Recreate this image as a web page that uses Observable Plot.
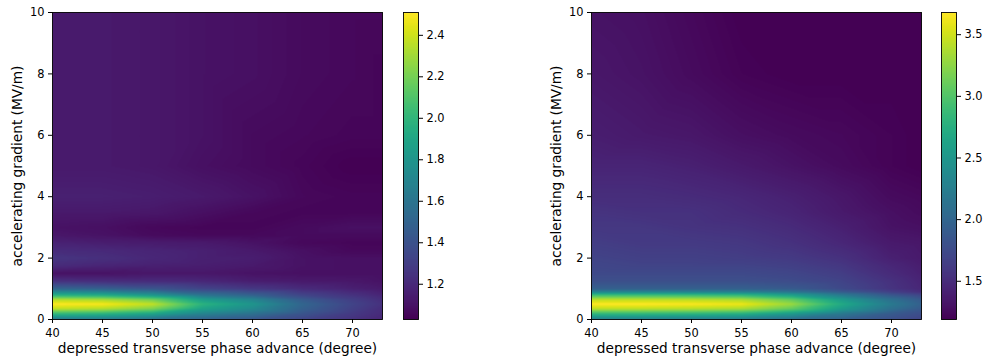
<!DOCTYPE html>
<html><head><meta charset="utf-8">
<script src="https://cdn.jsdelivr.net/npm/d3@7"></script>
<script src="https://cdn.jsdelivr.net/npm/@observablehq/plot@0.6"></script>
<style>
body{margin:0;background:#fff;}
#wrap{position:relative;width:984px;height:360px;font-family:"DejaVu Sans",sans-serif;}
#wrap > svg{position:absolute;top:0;}
</style></head><body><div id="wrap"></div>
<script>
// depressed transverse phase advance (degree) sample columns
const phase = [40, 45, 50, 55, 60, 65, 70, 73];

// accelerating gradient (MV/m) sample rows, left panel
const gradLeft = [0, 0.2, 0.35, 0.5, 0.65, 0.8, 1.0, 1.25, 1.5, 1.75, 2.0, 2.25, 2.5, 2.75, 3.0, 3.5, 4, 5, 6, 8, 10];
const valuesLeft = [
  [1.62,1.62,1.56,1.48,1.42,1.33,1.24,1.18],
  [2.04,2.01,1.92,1.71,1.59,1.42,1.28,1.21],
  [2.37,2.34,2.22,1.88,1.73,1.48,1.31,1.22],
  [2.51,2.49,2.37,1.98,1.80,1.51,1.33,1.24],
  [2.34,2.31,2.19,1.85,1.70,1.45,1.30,1.22],
  [1.95,1.92,1.80,1.59,1.48,1.33,1.24,1.18],
  [1.51,1.48,1.42,1.33,1.27,1.21,1.16,1.13],
  [1.24,1.22,1.21,1.19,1.15,1.13,1.12,1.10],
  [1.10,1.10,1.12,1.12,1.10,1.09,1.09,1.09],
  [1.21,1.18,1.16,1.15,1.13,1.10,1.09,1.09],
  [1.26,1.23,1.19,1.16,1.15,1.10,1.09,1.09],
  [1.21,1.20,1.18,1.16,1.13,1.09,1.06,1.06],
  [1.17,1.15,1.14,1.13,1.10,1.06,1.05,1.05],
  [1.12,1.10,1.07,1.06,1.06,1.07,1.07,1.07],
  [1.10,1.09,1.06,1.05,1.05,1.07,1.09,1.09],
  [1.13,1.13,1.12,1.09,1.06,1.05,1.05,1.05],
  [1.16,1.16,1.15,1.13,1.10,1.06,1.05,1.05],
  [1.13,1.13,1.12,1.09,1.07,1.05,1.03,1.03],
  [1.13,1.13,1.12,1.10,1.07,1.06,1.05,1.05],
  [1.13,1.13,1.12,1.10,1.09,1.07,1.06,1.05],
  [1.13,1.13,1.12,1.10,1.09,1.07,1.06,1.06]
];

// accelerating gradient (MV/m) sample rows, right panel
const gradRight = [0, 0.2, 0.35, 0.5, 0.65, 0.8, 0.9, 1.0, 1.25, 1.5, 1.75, 2.0, 2.5, 3.0, 3.5, 4, 5, 6, 8, 10];
const valuesRight = [
  [2.24,2.24,2.21,2.19,2.06,1.94,1.79,1.69],
  [2.88,2.88,2.86,2.81,2.58,2.22,1.90,1.78],
  [3.43,3.43,3.41,3.36,3.08,2.55,2.10,1.88],
  [3.68,3.68,3.66,3.61,3.30,2.70,2.20,1.95],
  [3.43,3.43,3.41,3.36,3.08,2.55,2.10,1.88],
  [2.88,2.88,2.86,2.81,2.58,2.20,1.85,1.70],
  [2.31,2.31,2.29,2.26,2.15,1.90,1.66,1.52],
  [1.94,1.94,1.94,1.94,1.89,1.74,1.56,1.46],
  [1.79,1.79,1.79,1.79,1.76,1.69,1.54,1.44],
  [1.74,1.74,1.74,1.74,1.71,1.64,1.49,1.41],
  [1.71,1.69,1.69,1.69,1.66,1.59,1.46,1.39],
  [1.69,1.66,1.66,1.64,1.61,1.54,1.41,1.36],
  [1.64,1.61,1.61,1.59,1.54,1.46,1.36,1.34],
  [1.59,1.59,1.56,1.54,1.49,1.41,1.31,1.29],
  [1.56,1.54,1.54,1.49,1.44,1.36,1.29,1.26],
  [1.51,1.51,1.49,1.46,1.41,1.34,1.26,1.24],
  [1.44,1.44,1.41,1.36,1.31,1.26,1.21,1.19],
  [1.39,1.36,1.34,1.29,1.26,1.24,1.21,1.19],
  [1.34,1.31,1.26,1.21,1.19,1.19,1.19,1.19],
  [1.31,1.29,1.24,1.19,1.19,1.19,1.19,1.19]
];

const xTicks = [40, 45, 50, 55, 60, 65, 70];
const yTicks = [0, 2, 4, 6, 8, 10];
const barTicksLeft = [1.2, 1.4, 1.6, 1.8, 2.0, 2.2, 2.4];
const barTicksRight = [1.5, 2.0, 2.5, 3.0, 3.5];
const xLabel = "depressed transverse phase advance (degree)";
const yLabel = "accelerating gradient (MV/m)";

const FONT = '"DejaVu Sans", sans-serif';
const wrap = document.getElementById("wrap");

function table(xs, ys, rows) {
  const out = [];
  ys.forEach((y, j) => xs.forEach((x, i) => out.push({x, y, v: rows[j][i]})));
  return out;
}

function heat(data, domain, left) {
  const p = Plot.plot({
    width: 400, height: 360,
    marginTop: 12, marginBottom: 41, marginLeft: 52, marginRight: 18,
    style: {fontFamily: FONT, fontSize: "11.4px", color: "#000", background: "transparent", overflow: "visible"},
    x: {domain: [40, 73]},
    y: {domain: [0, 10]},
    color: {type: "linear", scheme: "viridis", domain},
    marks: [
      Plot.raster(data, {x: "x", y: "y", fill: "v", interpolate: "barycentric", x1: 40, x2: 73, y1: 0, y2: 10}),
      Plot.frame({stroke: "#000", strokeWidth: 0.9}),
      Plot.axisX({ticks: xTicks, tickSize: 4, tickPadding: 5, label: null, tickFormat: d => String(d)}),
      Plot.axisY({ticks: yTicks, tickSize: 4, tickPadding: 4, label: null, tickFormat: d => String(d)}),
      Plot.text([xLabel], {frameAnchor: "bottom", dy: 29.5, textAnchor: "middle", lineAnchor: "middle", fontSize: 13.7, fill: "#000"}),
      Plot.text([yLabel], {frameAnchor: "left", dx: -34.5, rotate: -90, textAnchor: "middle", lineAnchor: "middle", fontSize: 13.7, fill: "#000"})
    ]
  });
  p.style.left = left + "px";
  wrap.appendChild(p);
}

function bar(domain, ticks, left, width, marginRight) {
  const p = Plot.plot({
    width, height: 360,
    marginTop: 12, marginBottom: 41, marginLeft: 13, marginRight,
    style: {fontFamily: FONT, fontSize: "11.4px", color: "#000", background: "transparent", overflow: "visible"},
    x: {domain: [0, 1], axis: null},
    y: {domain},
    color: {type: "linear", scheme: "viridis", domain},
    marks: [
      Plot.raster({x1: 0, x2: 1, y1: domain[0], y2: domain[1], fill: (x, y) => y}),
      Plot.frame({stroke: "#000", strokeWidth: 0.9}),
      Plot.axisY({anchor: "right", ticks, tickSize: 4, tickPadding: 4, label: null, tickFormat: d3.format(".1f")})
    ]
  });
  p.style.left = left + "px";
  wrap.appendChild(p);
}

const domLeft = d3.extent(valuesLeft.flat());
const domRight = d3.extent(valuesRight.flat());

heat(table(phase, gradLeft, valuesLeft), domLeft, 0);
bar(domLeft, barTicksLeft, 390, 60, 32);
heat(table(phase, gradRight, valuesRight), domRight, 539);
bar(domRight, barTicksRight, 928, 56, 28);
</script>
</body></html>
